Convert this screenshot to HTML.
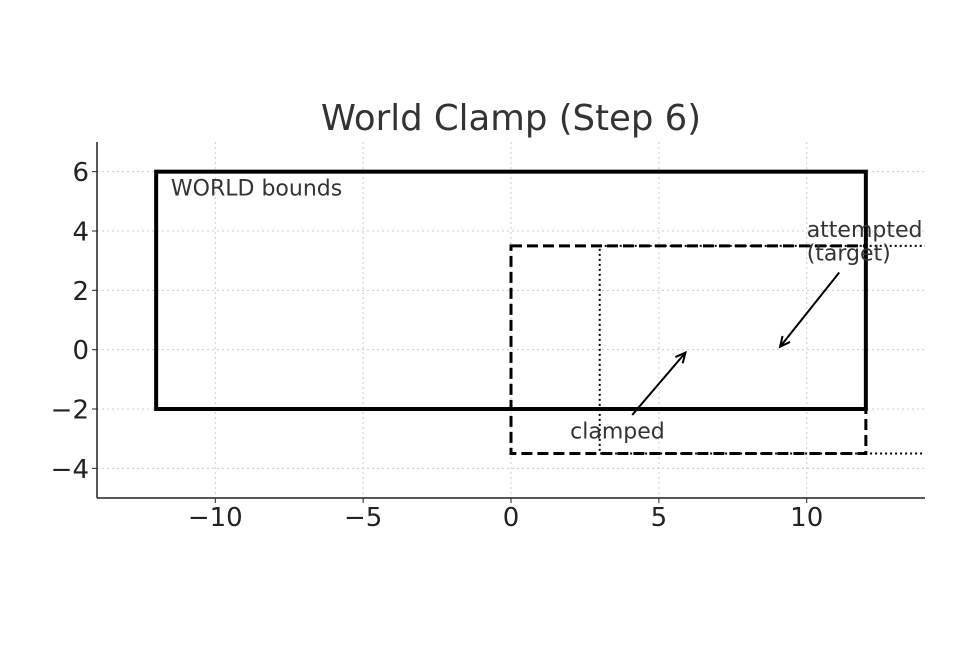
<!DOCTYPE html>
<html><head><meta charset="utf-8"><style>
body{margin:0;background:#fff}
svg text{font-family:"DejaVu Sans","Liberation Sans",sans-serif}
</style></head><body>
<svg id="chart" width="960" height="640" xmlns="http://www.w3.org/2000/svg">
<text x="511" y="130" text-anchor="middle" font-size="35.5" fill="#333">World Clamp (Step 6)</text>
<g id="grid"></g>
<g id="marks"></g>
<g id="axes"></g>
</svg>
<script>
const xTicks=[-10,-5,0,5,10];
const yTicks=[-4,-2,0,2,4,6];
const xTickLabels=["\u221210","\u22125","0","5","10"];
const yTickLabels=["\u22124","\u22122","0","2","4","6"];
const worldRect=[-12,-2,12,6];
const clampedRect=[0,-3.5,12,3.5];
const attemptedRect=[3,-3.5,15,3.5];
const xDomain=[-14,14], yDomain=[-5,7];
const L=97,R=925,T=142,B=498;
const sx=v=>L+(v-xDomain[0])/(xDomain[1]-xDomain[0])*(R-L);
const sy=v=>B-(v-yDomain[0])/(yDomain[1]-yDomain[0])*(B-T);
const NS="http://www.w3.org/2000/svg";
function mk(tag,attrs,parent){const e=document.createElementNS(NS,tag);for(const k in attrs)e.setAttribute(k,attrs[k]);parent.appendChild(e);return e;}
const grid=document.getElementById('grid'),marks=document.getElementById('marks'),axes=document.getElementById('axes');
xTicks.forEach((t,i)=>{
 const g=mk('line',{x1:sx(t),x2:sx(t),y1:T,y2:B,stroke:'#ccc','stroke-dasharray':'2,3'},grid);
 
 const tk=mk('line',{x1:sx(t),x2:sx(t),y1:B,y2:B+5,stroke:'#222'},axes);
 
 const tx=mk('text',{x:sx(t),y:B+28,'text-anchor':'middle','font-size':26,fill:'#222'},axes);
 tx.textContent=xTickLabels[i];
 
});
yTicks.forEach((t,i)=>{
 const g=mk('line',{x1:L,x2:R,y1:sy(t),y2:sy(t),stroke:'#ccc','stroke-dasharray':'2,3'},grid);
 
 const tk=mk('line',{x1:L-5,x2:L,y1:sy(t),y2:sy(t),stroke:'#222'},axes);
 
 const tx=mk('text',{x:L-8,y:sy(t)+9.5,'text-anchor':'end','font-size':26,fill:'#222'},axes);
 tx.textContent=yTickLabels[i];
 
});
const xa=mk('line',{x1:L,x2:R,y1:B,y2:B,stroke:'#222','stroke-width':1.5},axes);

const ya=mk('line',{x1:L,x2:L,y1:T,y2:B,stroke:'#222','stroke-width':1.5},axes);

const clip=mk('clipPath',{id:'pc'},marks);mk('rect',{x:L,y:T,width:R-L,height:B-T},clip);
function rect(r,style){const e=mk('rect',Object.assign({x:sx(r[0]),y:sy(r[3]),width:sx(r[2])-sx(r[0]),height:sy(r[1])-sy(r[3]),fill:'none',stroke:'#000','clip-path':'url(#pc)'},style),marks);return e;}
const w=rect(worldRect,{'stroke-width':4});

const a=rect(attemptedRect,{'stroke-width':2,'stroke-dasharray':'2,3'});

const c=rect(clampedRect,{'stroke-width':3,'stroke-dasharray':'11,5'});

function label(txt,x,y,name){const e=mk('text',{x:sx(x),y:sy(y),'font-size':22,fill:'#333'},marks);e.textContent=txt;return e;}
label('WORLD bounds',-11.5,5.2,'world-bounds-label');
label('clamped',2,-3.0,'clamped-label');
label('attempted',10,3.8,'attempted-label');
label('(target)',10,3.0,'target-label');
function arrow(x1,y1,x2,y2,name){
 const X1=sx(x1),Y1=sy(y1),X2=sx(x2),Y2=sy(y2);
 const l=mk('line',{x1:X1,y1:Y1,x2:X2,y2:Y2,stroke:'#000','stroke-width':2},marks);
 
 const ang=Math.atan2(Y2-Y1,X2-X1),h=11;
 const p=mk('polyline',{points:`${X2-h*Math.cos(ang-0.45)},${Y2-h*Math.sin(ang-0.45)} ${X2},${Y2} ${X2-h*Math.cos(ang+0.45)},${Y2-h*Math.sin(ang+0.45)}`,fill:'none',stroke:'#000','stroke-width':2},marks);
 
}
arrow(4.1,-2.2,5.9,-0.1,'clamped-arrow');
arrow(11.1,2.6,9.1,0.1,'attempted-arrow');
</script>
</body></html>
